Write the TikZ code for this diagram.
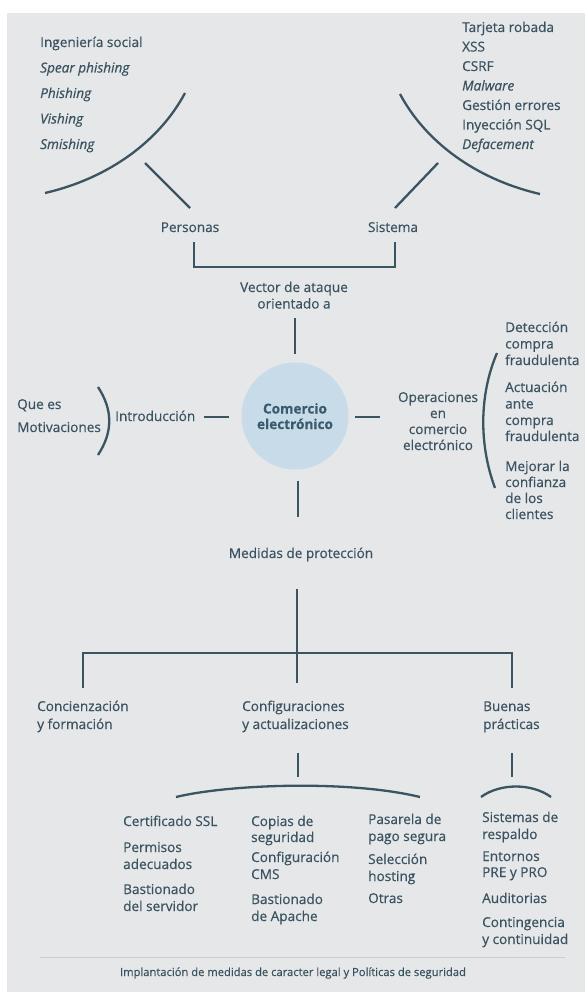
\documentclass[tikz,border=0pt]{standalone}
\usepackage{fontspec}
\setmainfont{Open Sans}[FakeBold=0.5]
\definecolor{bg}{HTML}{E6E7E9}
\definecolor{txt}{HTML}{3A5360}
\definecolor{ctxt}{HTML}{3A5A6E}
\definecolor{ln}{HTML}{3A5461}
\definecolor{circ}{HTML}{C7DBE8}
\definecolor{rule}{HTML}{C9CDD0}
\tikzset{
  lt/.style={anchor=base west, inner sep=0pt, text=txt, font=\fontsize{13.6}{16}\selectfont},
  ct/.style={anchor=base, inner sep=0pt, text=txt, font=\fontsize{13.6}{16}\selectfont},
  it/.style={lt, font=\fontsize{13.6}{16}\selectfont\itshape},
  conn/.style={draw=ln, line width=2.3pt},
}
\begin{document}
\begin{tikzpicture}[x=1pt,y=-1pt]
\useasboundingbox (0,0) rectangle (585,992);
\fill[bg] (7,13) rectangle (585,992);

% top-left list
\node[lt] (is) at (40,47) {Ingeniería social};
\node[it] (sp) at (40,72.5) {Spear phishing};
\node[it] (ph) at (40,98) {Phishing};
\node[it] (vi) at (40,123.5) {Vishing};
\node[it] (sm) at (40,149) {Smishing};
\coordinate (la1) at (45,193);
\coordinate (la2) at (185,93);
\draw[conn] (la1) .. controls (110,178) and (160,140) .. (la2);
\coordinate (lp1) at (145,163);
\node[ct] (per) at (190,232) {Personas};
\draw[conn] (lp1) -- (190,208);

% top-right list
\node[lt] (tr) at (462,32) {Tarjeta robada};
\node[lt] (xss) at (462,51.5) {XSS};
\node[lt] (csrf) at (462,71) {CSRF};
\node[it] (mal) at (462,90.5) {Malware};
\node[lt] (ge) at (462,110) {Gestión errores};
\node[lt] (sql) at (462,129.5) {Inyección SQL};
\node[it] (def) at (462,149) {Defacement};
\coordinate (ra1) at (540,194);
\coordinate (ra2) at (400,94);
\draw[conn] (ra1) .. controls (475,179) and (425,141) .. (ra2);
\coordinate (rp1) at (438,163);
\node[ct] (sis) at (393,232) {Sistema};
\draw[conn] (rp1) -- (395,208);

% bracket
\draw[conn] (194,242) |- (295,267) -| (395,242);

\node[ct] (vec1) at (294,292) {Vector de ataque};
\node[ct] (vec2) at (294,308.5) {orientado a};
\draw[conn] (295,318) -- (295,354);

% circle
\node[circle, fill=circ, minimum size=107pt, inner sep=0pt] (ce) at (295,416) {};
\node[ct, text=ctxt, font=\fontsize{13.6}{16}\selectfont\bfseries] (ce1) at (295,413.5) {Comercio};
\node[ct, text=ctxt, font=\fontsize{13.6}{16}\selectfont\bfseries] (ce2) at (295,429) {electrónico};

% left: introduction
\node[lt] (intro) at (115,421) {Introducción};
\draw[conn] (204,417) -- (229,417);
\node[lt] (que) at (17,409) {Que es};
\node[lt] (mot) at (17,432) {Motivaciones};
\draw[conn] (98,387) .. controls (113,410) and (113,432) .. (98,455);

% right: operaciones
\draw[conn] (355,417) -- (380,417);
\node[ct] (op1) at (438,402) {Operaciones};
\node[ct] (op2) at (438,418) {en};
\node[ct] (op3) at (438,434) {comercio};
\node[ct] (op4) at (438,450) {electrónico};
\draw[conn] (497,353) .. controls (479,395) and (479,445) .. (495,488);
\node[lt] (d1) at (505,332) {Detección};
\node[lt] (d2) at (505,348.5) {compra};
\node[lt] (d3) at (505,365) {fraudulenta};
\node[lt] (a1) at (505,392) {Actuación};
\node[lt] (a2) at (505,408.5) {ante};
\node[lt] (a3) at (505,425) {compra};
\node[lt] (a4) at (505,441) {fraudulenta};
\node[lt] (m1) at (505,471) {Mejorar la};
\node[lt] (m2) at (505,487) {confianza};
\node[lt] (m3) at (505,503) {de los};
\node[lt] (m4) at (505,519) {clientes};

% medidas
\draw[conn] (298,481) -- (298,517);
\node[ct] (med) at (301,558) {Medidas de protección};
\draw[conn] (297,589) -- (297,683);
\draw[conn] (83,688) |- (512,653) -- (512,688);

\node[lt] (c1) at (37,711) {Concienzación};
\node[lt] (c2) at (37,729) {y formación};
\node[lt] (cf1) at (242,711) {Configuraciones};
\node[lt] (cf2) at (242,729) {y actualizaciones};
\node[lt] (b1) at (483,711) {Buenas};
\node[lt] (b2) at (483,729) {prácticas};

\draw[conn] (298,753) -- (298,777);
\draw[conn] (512,753) -- (512,777);
\draw[conn] (176,797) .. controls (230,784) and (350,780) .. (420,797);
\draw[conn] (481,797) .. controls (500,783) and (532,783) .. (551,797);

% columns
\node[lt] (k1) at (123,826) {Certificado SSL};
\node[lt] (k2) at (123,852) {Permisos};
\node[lt] (k3) at (123,869) {adecuados};
\node[lt] (k4) at (123,894) {Bastionado};
\node[lt] (k5) at (123,911) {del servidor};

\node[lt] (l1) at (251,826) {Copias de};
\node[lt] (l2) at (251,842) {seguridad};
\node[lt] (l3) at (251,862) {Configuración};
\node[lt] (l4) at (251,879) {CMS};
\node[lt] (l5) at (251,904) {Bastionado};
\node[lt] (l6) at (251,921) {de Apache};

\node[lt] (p1) at (368,824) {Pasarela de};
\node[lt] (p2) at (368,841) {pago segura};
\node[lt] (p3) at (368,864) {Selección};
\node[lt] (p4) at (368,881) {hosting};
\node[lt] (p5) at (368,903) {Otras};

\node[lt] (s1) at (482,822) {Sistemas de};
\node[lt] (s2) at (482,839) {respaldo};
\node[lt] (s3) at (482,861) {Entornos};
\node[lt] (s4) at (482,877) {PRE y PRO};
\node[lt] (s5) at (482,903) {Auditorias};
\node[lt] (s6) at (482,927) {Contingencia};
\node[lt] (s7) at (482,944) {y continuidad};

\draw[rule, line width=1pt] (40,957) -- (565,957);
\node[ct, font=\fontsize{11.2}{13}\selectfont] (foot) at (293,976) {Implantación de medidas de caracter legal y Políticas de seguridad};
\end{tikzpicture}
\end{document}
